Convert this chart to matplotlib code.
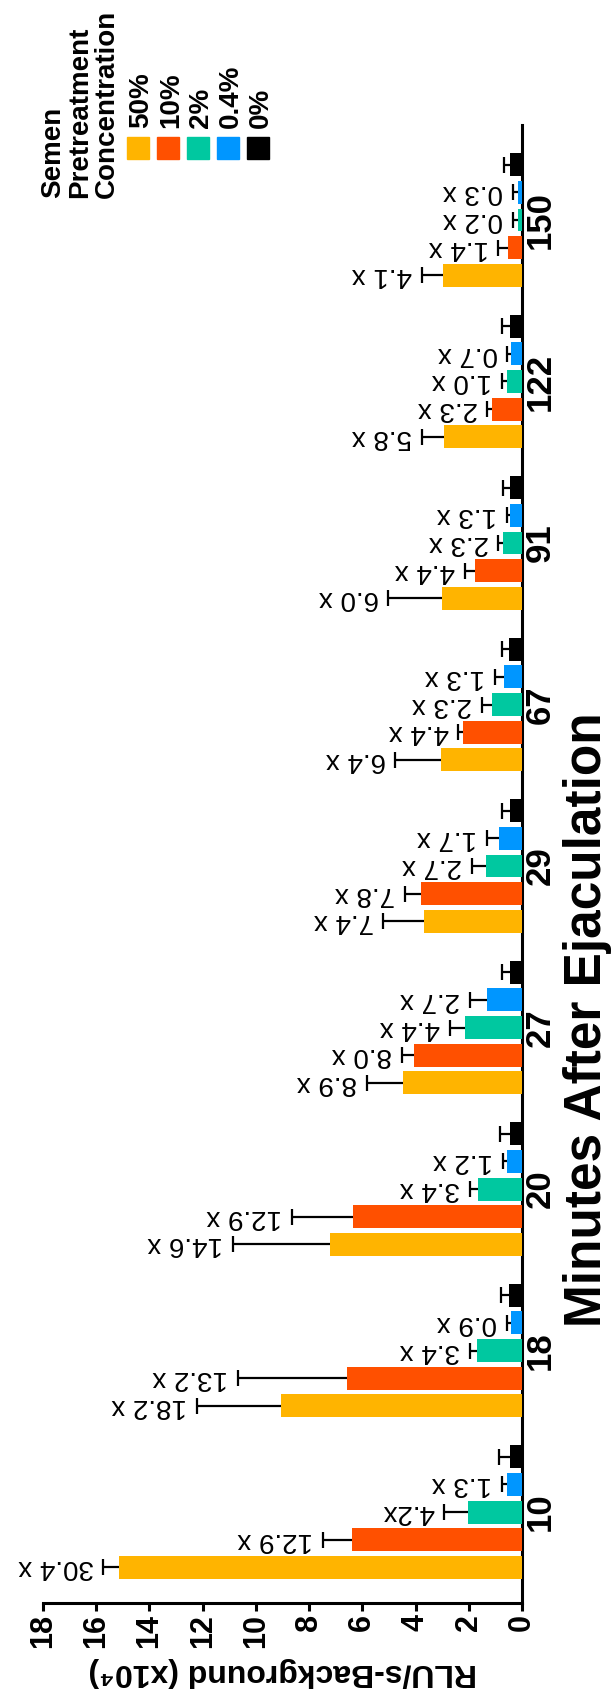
import matplotlib
matplotlib.use('Agg')
import matplotlib.pyplot as plt
import numpy as np
from matplotlib.patches import Rectangle

plt.rcParams['font.family'] = ['Liberation Sans', 'DejaVu Sans']

# ---------------- data ----------------
minutes = ['10', '18', '20', '27', '29', '67', '91', '122', '150']
concentrations = ['50%', '10%', '2%', '0.4%', '0%']
colors = ['#FFB400', '#FF5000', '#00C8A0', '#0096FF', '#000000']

val_50 = [15.13, 9.06, 7.22, 4.46, 3.68, 3.06, 3.02, 2.92, 2.96]
err_50 = [0.60, 3.16, 3.65, 1.38, 1.53, 1.70, 2.00, 0.85, 0.81]
val_10 = [6.39, 6.59, 6.34, 4.05, 3.80, 2.21, 1.78, 1.12, 0.54]
err_10 = [1.10, 4.08, 2.32, 0.47, 0.60, 0.18, 0.37, 0.18, 0.35]
val_2 = [2.02, 1.69, 1.65, 2.14, 1.35, 1.14, 0.73, 0.55, 0.14]
err_2 = [0.90, 0.26, 0.30, 0.56, 0.54, 0.36, 0.16, 0.20, 0.20]
val_04 = [0.58, 0.43, 0.55, 1.30, 0.86, 0.68, 0.45, 0.40, 0.16]
err_04 = [0.17, 0.15, 0.17, 0.65, 0.46, 0.33, 0.13, 0.15, 0.19]
val_0 = [0.46, 0.50, 0.46, 0.45, 0.45, 0.49, 0.45, 0.45, 0.45]
err_0 = [0.42, 0.30, 0.37, 0.30, 0.30, 0.27, 0.25, 0.30, 0.21]

lab_50 = ['30.4 x', '18.2 x', '14.6 x', '8.9 x', '7.4 x', '6.4 x', '6.0 x', '5.8 x', '4.1 x']
lab_10 = ['12.9 x', '13.2 x', '12.9 x', '8.0 x', '7.8 x', '4.4 x', '4.4 x', '2.3 x', '1.4 x']
lab_2 = ['4.2x', '3.4 x', '3.4 x', '4.4 x', '2.7 x', '2.3 x', '2.3 x', '1.0 x', '0.2 x']
lab_04 = ['1.3 x', '0.9 x', '1.2 x', '2.7 x', '1.7 x', '1.3 x', '1.3 x', '0.7 x', '0.3 x']
lab_0 = [''] * 9

values = [val_50, val_10, val_2, val_04, val_0]
errors = [err_50, err_10, err_2, err_04, err_0]
labels = [lab_50, lab_10, lab_2, lab_04, lab_0]

# ---------------- figure ----------------
W, H = 613, 1694
fig = plt.figure(figsize=(W / 100, H / 100), dpi=100)


def fx(px):
    return px / W


def fy(py):
    return 1 - py / H


ax = fig.add_axes([fx(43), fy(1603), (522 - 43) / W, (1603 - 125) / H])

step = 0.1715
bw = 0.142
groups = np.arange(len(minutes))

for i in range(5):
    pos = groups + (i - 2) * step
    v = np.array(values[i])
    e = np.array(errors[i])
    ax.barh(pos, v, height=bw, color=colors[i], zorder=3)
    eb = ax.errorbar(v, pos, xerr=[np.zeros_like(e), e], fmt='none',
                     ecolor='black', elinewidth=1.6, capsize=5.5,
                     capthick=1.6, zorder=2)
    eb[1][0].set_visible(False)
    for j in range(len(minutes)):
        if labels[i][j]:
            ax.annotate(labels[i][j], xy=(v[j] + e[j], pos[j]),
                        xytext=(-7, 0), textcoords='offset points',
                        rotation=180, rotation_mode='anchor',
                        ha='left', va='center', fontsize=20)

ax.set_xlim(18, 0)
ax.set_ylim(-0.563, 8.588)

for s in ['top', 'left']:
    ax.spines[s].set_visible(False)
for s in ['bottom', 'right']:
    ax.spines[s].set_linewidth(2.2)

ax.set_xticks(np.arange(0, 19, 2))
ax.set_xticklabels([str(t) for t in range(0, 19, 2)], rotation=90,
                   fontsize=22, fontweight='bold')
ax.tick_params(axis='x', length=6, width=2.2, pad=2)

ax.yaxis.tick_right()
ax.set_yticks(groups)
ax.set_yticklabels(minutes, rotation=90, fontsize=25, fontweight='bold',
                   va='center')
ax.tick_params(axis='y', length=0, pad=1)

ax.set_xlabel('RLU/s-Background (x10\u2074)', rotation=180, fontsize=23,
              fontweight='bold', labelpad=6)

fig.text(fx(601), fy(1020), 'Minutes After Ejaculation', rotation=90,
         rotation_mode='anchor', ha='center', va='baseline',
         fontsize=37, fontweight='bold')

# legend (drawn rotated like the rest of the chart)
for k, line in enumerate(['Semen', 'Pretreatment', 'Concentration']):
    fig.text(fx(60 + 27 * k), fy(198), line, rotation=90,
             rotation_mode='anchor', ha='left', va='baseline',
             fontsize=20, fontweight='bold')

for i, (c, name) in enumerate(zip(colors, concentrations)):
    x0 = 127 + 30 * i
    fig.add_artist(Rectangle((fx(x0), fy(159)), 22 / W, 22 / H,
                             transform=fig.transFigure, color=c))
    fig.text(fx(x0 + 21), fy(128), name, rotation=90,
             rotation_mode='anchor', ha='left', va='baseline',
             fontsize=20, fontweight='bold')

fig.savefig('out.png', dpi=100)
